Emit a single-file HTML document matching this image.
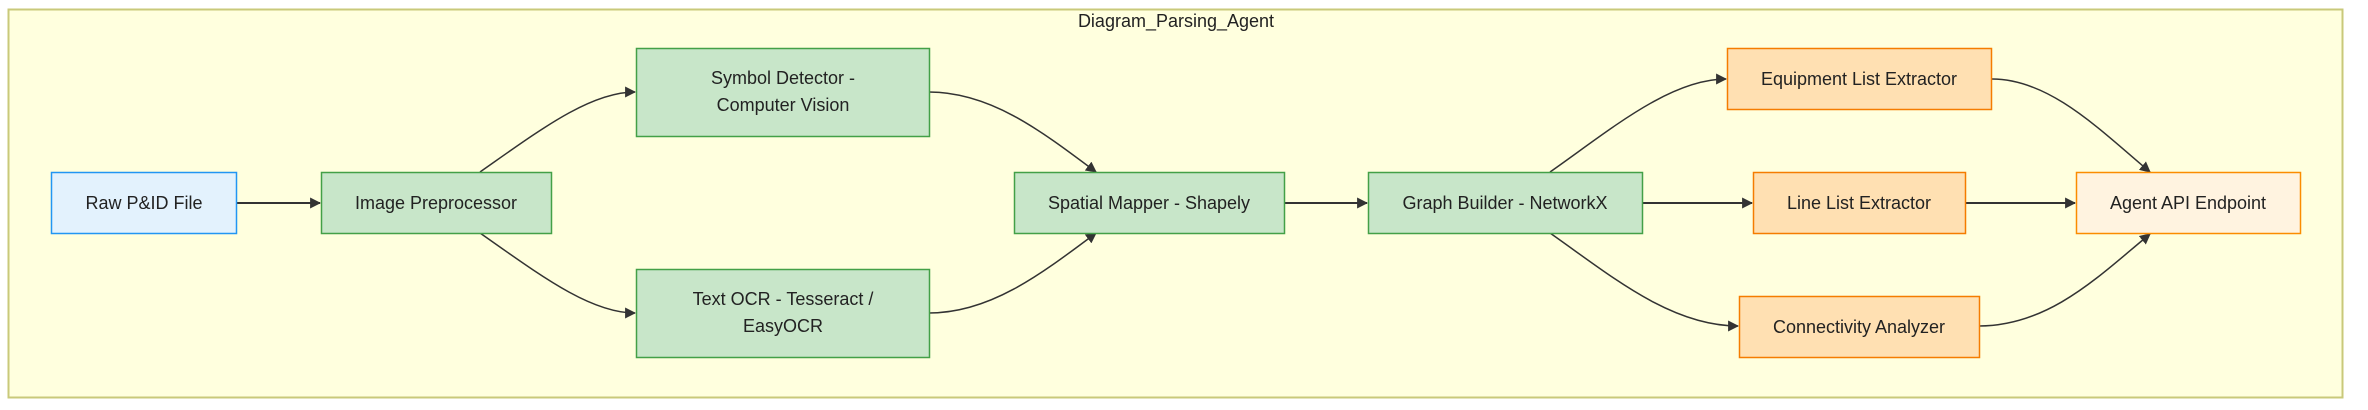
<!DOCTYPE html>
<html><head><meta charset="utf-8"><style>
html,body{margin:0;padding:0;background:#fff;}
svg{display:block;}
text{font-family:"Liberation Sans",Arial,sans-serif;font-size:18px;fill:#222;}
</style></head><body>
<svg width="2368" height="410" viewBox="0 0 2368 410" xmlns="http://www.w3.org/2000/svg">
<defs>
<marker id="a" viewBox="0 0 10 10" refX="9" refY="5" markerWidth="11" markerHeight="11" markerUnits="userSpaceOnUse" orient="auto">
<path d="M0,0 L10,5 L0,10 z" fill="#333"/>
</marker>
</defs>
<rect x="8.5" y="9.5" width="2334" height="388" fill="#ffffde" stroke="#c9c97a" stroke-width="2"/>
<text x="1176" y="27" text-anchor="middle" fill="#333">Diagram_Parsing_Agent</text>

<g fill="none" stroke="#333" stroke-width="1.5" marker-end="url(#a)">
<path d="M237,203 L320,203" stroke-width="2"/>
<path d="M480,172 C540,130 590,92 635,92"/>
<path d="M480,233 C540,275 590,313 635,313"/>
<path d="M929,92 C990,92 1040,130 1096,172"/>
<path d="M929,313 C990,313 1040,275 1096,233"/>
<path d="M1284,203 L1367,203" stroke-width="2"/>
<path d="M1550,172 C1610,130 1670,79 1726,79"/>
<path d="M1643,203 L1752,203" stroke-width="2"/>
<path d="M1550,233 C1610,275 1670,326 1738,326"/>
<path d="M1992,79 C2050,79 2100,130 2150,172"/>
<path d="M1965,203 L2075,203" stroke-width="2"/>
<path d="M1979,326 C2050,326 2100,275 2150,234"/>
</g>

<rect x="51.5" y="172.5" width="185" height="61" fill="#e3f2fd" stroke="#2196f3" stroke-width="1.5"/>
<text x="144" y="209" text-anchor="middle">Raw P&amp;ID File</text>

<rect x="321.5" y="172.5" width="230" height="61" fill="#c8e6c9" stroke="#43a047" stroke-width="1.5"/>
<text x="436" y="209" text-anchor="middle">Image Preprocessor</text>

<rect x="636.5" y="48.5" width="293" height="88" fill="#c8e6c9" stroke="#43a047" stroke-width="1.5"/>
<text x="783" y="84" text-anchor="middle">Symbol Detector -</text>
<text x="783" y="111" text-anchor="middle">Computer Vision</text>

<rect x="636.5" y="269.5" width="293" height="88" fill="#c8e6c9" stroke="#43a047" stroke-width="1.5"/>
<text x="783" y="305" text-anchor="middle">Text OCR - Tesseract /</text>
<text x="783" y="332" text-anchor="middle">EasyOCR</text>

<rect x="1014.5" y="172.5" width="270" height="61" fill="#c8e6c9" stroke="#43a047" stroke-width="1.5"/>
<text x="1149" y="209" text-anchor="middle">Spatial Mapper - Shapely</text>

<rect x="1368.5" y="172.5" width="274" height="61" fill="#c8e6c9" stroke="#43a047" stroke-width="1.5"/>
<text x="1505" y="209" text-anchor="middle">Graph Builder - NetworkX</text>

<rect x="1727.5" y="48.5" width="264" height="61" fill="#ffe0b2" stroke="#f57c00" stroke-width="1.5"/>
<text x="1859" y="85" text-anchor="middle">Equipment List Extractor</text>

<rect x="1753.5" y="172.5" width="212" height="61" fill="#ffe0b2" stroke="#f57c00" stroke-width="1.5"/>
<text x="1859" y="209" text-anchor="middle">Line List Extractor</text>

<rect x="1739.5" y="296.5" width="240" height="61" fill="#ffe0b2" stroke="#f57c00" stroke-width="1.5"/>
<text x="1859" y="333" text-anchor="middle">Connectivity Analyzer</text>

<rect x="2076.5" y="172.5" width="224" height="61" fill="#fff3e0" stroke="#fb8c00" stroke-width="1.5"/>
<text x="2188" y="209" text-anchor="middle">Agent API Endpoint</text>
</svg>
</body></html>
